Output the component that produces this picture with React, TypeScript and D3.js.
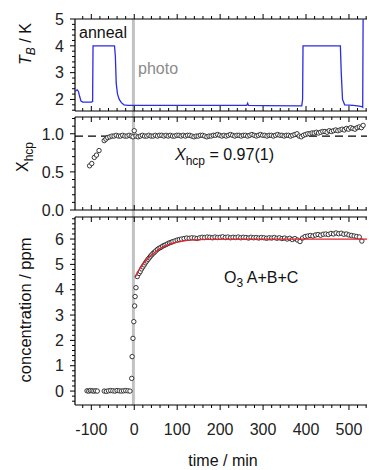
import * as d3 from 'd3'

// blue T_B trace: [time, K]
const tbTrace: [number, number][] = [
  [-138, 2.3], [-133, 2.36], [-130, 2.3], [-127, 2.1], [-124, 1.94], [-120, 1.9], [-100, 1.9], [-97, 1.92],
  [-96, 4.0], [-46, 4.0], [-44, 3.6], [-42, 2.6], [-39, 2.2], [-35, 2.0], [-30, 1.88], [-24, 1.8], [-15, 1.78],
  [262, 1.78], [264, 1.86], [266, 1.78], [300, 1.77], [390, 1.76], [392, 2.0], [393, 4.0], [480, 4.0],
  [482, 3.0], [485, 2.0], [490, 1.8], [510, 1.78], [520, 1.76], [530, 1.73], [532, 1.71], [533, 5.2]
]

// X_hcp points: [time, fraction]
const xhcpPoints: [number, number][] = [
  [-104, 0.58], [-99, 0.61], [-93, 0.69], [-88, 0.72], [-82, 0.78],
  [-70, 0.91], [-66, 0.93], [-62, 0.95], [-57, 0.96], [-52, 0.97], [-47, 0.97], [-42, 0.98], [-37, 0.97],
  [-32, 0.97], [-27, 0.98], [-22, 0.97], [-17, 0.97], [-12, 0.98], [-7, 0.97], [-3, 0.96], [0, 1.04],
  [4, 0.97], [9, 0.96], [14, 0.97], [19, 0.98], [24, 0.97], [29, 0.97], [34, 0.98], [39, 0.97], [44, 0.97],
  [49, 0.98], [54, 0.97], [59, 0.98], [64, 0.98], [69, 0.97], [74, 0.98], [79, 0.97], [84, 0.98], [89, 0.97],
  [94, 0.97], [99, 0.98], [104, 0.98], [109, 0.97], [114, 0.98], [119, 0.97], [124, 0.98], [129, 0.98],
  [134, 0.97], [139, 0.96], [144, 0.97], [149, 0.97], [154, 0.98], [159, 0.98], [164, 0.97], [169, 0.96],
  [174, 0.97], [179, 0.97], [184, 0.98], [189, 0.98], [194, 0.99], [199, 0.98], [204, 0.97], [209, 0.98],
  [214, 0.97], [219, 0.98], [224, 0.99], [229, 0.98], [234, 0.97], [239, 0.98], [244, 0.98], [249, 0.97],
  [254, 0.98], [259, 0.98], [264, 0.97], [269, 0.98], [274, 0.99], [279, 0.98], [284, 0.97], [289, 0.98],
  [294, 0.99], [299, 0.98], [304, 0.98], [309, 0.97], [314, 0.98], [319, 0.98], [324, 0.97], [329, 0.98],
  [334, 0.99], [339, 0.98], [344, 0.98], [349, 0.97], [354, 0.98], [359, 0.98], [364, 0.97], [369, 0.98],
  [374, 0.99], [379, 1.0], [384, 0.97], [389, 0.96], [394, 0.98], [399, 0.99], [404, 1.0], [409, 1.0],
  [414, 1.01], [419, 1.01], [424, 1.02], [429, 1.01], [434, 1.02], [439, 1.03], [444, 1.03], [449, 1.02],
  [454, 1.04], [459, 1.03], [464, 1.04], [469, 1.05], [474, 1.04], [479, 1.05], [484, 1.06], [489, 1.05],
  [494, 1.07], [499, 1.06], [504, 1.08], [509, 1.07], [514, 1.06], [519, 1.08], [524, 1.09], [529, 1.08],
  [533, 1.11]
]

// O3 concentration points: [time, ppm]
const concPoints: [number, number][] = [
  [-110, 0.01], [-106, 0.0], [-102, 0.02], [-98, 0.01], [-94, 0.0], [-90, 0.01], [-86, 0.0],
  [-70, 0.0], [-65, -0.01], [-60, 0.01], [-55, 0.02], [-50, 0.01], [-45, 0.0], [-40, 0.02], [-35, 0.01],
  [-30, 0.0], [-25, 0.01], [-20, 0.02], [-15, 0.01], [-10, 0.0],
  [-6, 0.5], [-5, 1.36], [-3, 2.08], [-1, 2.74], [1, 3.36], [2, 3.73], [4, 4.08], [7, 4.52],
  [11, 4.64], [14, 4.72], [17, 4.82], [20, 4.9], [23, 4.98], [26, 5.06], [29, 5.13], [32, 5.2], [35, 5.26],
  [38, 5.33], [41, 5.38], [44, 5.44], [47, 5.48], [50, 5.53], [54, 5.59], [58, 5.64], [62, 5.67], [66, 5.72],
  [70, 5.75], [74, 5.78], [78, 5.82], [82, 5.85], [86, 5.87], [90, 5.9], [95, 5.93], [100, 5.96], [105, 5.98],
  [110, 6.0], [116, 6.02], [122, 6.04], [128, 6.03], [134, 6.05], [140, 6.04], [146, 6.02], [152, 6.05],
  [158, 6.07], [164, 6.06], [170, 6.08], [176, 6.07], [182, 6.05], [188, 6.08], [194, 6.06], [200, 6.07],
  [206, 6.09], [212, 6.06], [218, 6.08], [224, 6.05], [230, 6.07], [236, 6.06], [242, 6.08], [248, 6.05],
  [254, 6.07], [260, 6.06], [266, 6.04], [272, 6.07], [278, 6.05], [284, 6.06], [290, 6.04], [296, 6.06],
  [302, 6.05], [308, 6.03], [314, 6.05], [320, 6.04], [326, 6.06], [332, 6.03], [338, 6.05], [344, 6.02],
  [350, 6.04], [356, 6.0], [362, 6.03], [368, 5.98], [374, 6.02], [380, 5.96], [386, 5.9], [392, 6.04],
  [398, 6.1], [404, 6.12], [410, 6.14], [416, 6.12], [422, 6.16], [428, 6.18], [434, 6.15], [440, 6.19],
  [446, 6.2], [452, 6.18], [458, 6.22], [464, 6.2], [470, 6.24], [476, 6.21], [482, 6.23], [488, 6.19],
  [494, 6.2], [500, 6.16], [506, 6.14], [512, 6.12], [518, 6.1], [524, 6.08], [530, 5.92]
]

// red fit curve: [time, ppm]
const fitCurve: [number, number][] = [
  [2, 4.48], [10, 4.75], [20, 5.0], [30, 5.2], [40, 5.37], [50, 5.5], [60, 5.62], [70, 5.71], [80, 5.78],
  [90, 5.84], [100, 5.88], [120, 5.94], [140, 5.97], [170, 5.99], [220, 6.0], [542, 6.0]
]

const timeTicks = [-100, 0, 100, 200, 300, 400, 500]
const tbTicks = [2, 3, 4, 5]
const xhcpTicks = [0, 0.5, 1.0]
const concTicks = [0, 1, 2, 3, 4, 5, 6]
const xhcpMean = 0.97
const photoStart = -2

const W = 369
const H = 470
const L = 75
const R = 367
const FONT = '"Liberation Sans", Arial, sans-serif'

export default function App() {
  const x = d3.scaleLinear().domain([-138, 542]).range([L, R])
  const panels = [
    { id: 'p1', y: d3.scaleLinear().domain([1.57, 5]).range([111, 19]), ticks: tbTicks, minor: 0.2, fmt: (d: number) => String(d) },
    { id: 'p2', y: d3.scaleLinear().domain([0, 1.22]).range([210, 117]), ticks: xhcpTicks, minor: 0.1, fmt: d3.format('.1f') },
    { id: 'p3', y: d3.scaleLinear().domain([-0.55, 6.87]).range([405, 217]), ticks: concTicks, minor: 0.2, fmt: (d: number) => String(d) }
  ]
  const [p1, p2, p3] = panels
  const minorTime = d3.range(-120, 541, 20)

  const xTickMarks = (yPos: number, dir: number) =>
    minorTime.map(t => {
      const major = t % 100 === 0
      return (
        <line key={t} x1={x(t)} x2={x(t)} y1={yPos} y2={yPos + dir * (major ? 5 : 3)} stroke="#000" strokeWidth={1} />
      )
    })

  const yTickMarks = (p: typeof p1) => {
    const [d0, d1] = p.y.domain()
    const step = p.minor
    const all = d3.range(Math.ceil(d0 / step) * step, d1 + 1e-9, step)
    return all.map((v, i) => {
      const major = p.ticks.some(t => Math.abs(t - v) < 1e-6)
      return <line key={i} x1={L} x2={L - (major ? 5 : 3)} y1={p.y(v)} y2={p.y(v)} stroke="#000" strokeWidth={1} />
    })
  }

  const tbLine = d3.line<[number, number]>().x(d => x(d[0])).y(d => p1.y(d[1]))
  const fitLine = d3.line<[number, number]>().x(d => x(d[0])).y(d => p3.y(d[1])).curve(d3.curveMonotoneX)

  return (
    <svg width={W} height={H} style={{ position: 'absolute', left: 0, top: 0, background: '#fff' }} fontFamily={FONT}>
      <defs>
        {panels.map(p => (
          <clipPath key={p.id} id={'clip-' + p.id}>
            <rect x={L} y={p.y.range()[1]} width={R - L} height={p.y.range()[0] - p.y.range()[1]} />
          </clipPath>
        ))}
      </defs>

      {/* photolysis start marker */}
      <line x1={x(photoStart)} x2={x(photoStart)} y1={p1.y.range()[1]} y2={p3.y.range()[0]} stroke="#c2c2c2" strokeWidth={3} />

      {/* axes */}
      {panels.map(p => {
        const [yb, yt] = p.y.range()
        return (
          <g key={p.id}>
            <line x1={L} x2={L} y1={yt} y2={yb} stroke="#000" strokeWidth={1.2} />
            <line x1={L} x2={R} y1={yt} y2={yt} stroke="#000" strokeWidth={1.2} />
            <line x1={L} x2={R} y1={yb} y2={yb} stroke="#000" strokeWidth={1.2} />
            {yTickMarks(p)}
            {p.ticks.map(t => (
              <text key={t} x={64} y={p.y(t)} dy="0.36em" textAnchor="end" fontSize={16} fill="#222">{p.fmt(t)}</text>
            ))}
          </g>
        )
      })}
      {xTickMarks(p1.y.range()[1], -1)}
      {xTickMarks(p1.y.range()[0], -1)}
      {xTickMarks(p2.y.range()[1], 1)}
      {xTickMarks(p2.y.range()[0], -1)}
      {xTickMarks(p3.y.range()[1], 1)}
      {xTickMarks(p3.y.range()[0], 1)}
      {timeTicks.map(t => (
        <text key={t} x={x(t)} y={435} textAnchor="middle" fontSize={16} fill="#222">{t}</text>
      ))}

      {/* panel 1: T_B */}
      <g clipPath="url(#clip-p1)">
        <path d={tbLine(tbTrace) || ''} fill="none" stroke="#2c2ce0" strokeWidth={1.3} />
      </g>

      {/* panel 2: X_hcp */}
      <line x1={L} x2={R} y1={p2.y(xhcpMean)} y2={p2.y(xhcpMean)} stroke="#000" strokeWidth={1.2} strokeDasharray="8,5" />
      <g clipPath="url(#clip-p2)">
        {xhcpPoints.map((d, i) => (
          <circle key={i} cx={x(d[0])} cy={p2.y(d[1])} r={2.2} fill="#fff" stroke="#222" strokeWidth={0.9} />
        ))}
      </g>

      {/* panel 3: concentration */}
      <g clipPath="url(#clip-p3)">
        {concPoints.map((d, i) => (
          <circle key={i} cx={x(d[0])} cy={p3.y(d[1])} r={2.2} fill="#fff" stroke="#222" strokeWidth={0.9} />
        ))}
        <path d={fitLine(fitCurve) || ''} fill="none" stroke="#e8232b" strokeWidth={1.3} />
      </g>

      {/* annotations */}
      <text x={79} y={38} fontSize={16} fill="#111">anneal</text>
      <text x={138} y={74} fontSize={16} fill="#8a8a8a">photo</text>
      <text x={175} y={160} fontSize={16} fill="#111">
        <tspan fontStyle="italic">X</tspan>
        <tspan fontSize={12} dy={5}>hcp</tspan>
        <tspan dy={-5}> = 0.97(1)</tspan>
      </text>
      <text x={224} y={283} fontSize={16} fill="#111">
        O<tspan fontSize={12} dy={4}>3</tspan><tspan dy={-4}> A+B+C</tspan>
      </text>

      {/* axis titles */}
      <text transform="translate(31,44) rotate(-90)" textAnchor="middle" fontSize={16} fill="#111">
        <tspan fontStyle="italic">T</tspan>
        <tspan fontStyle="italic" fontSize={12} dy={4}>B</tspan>
        <tspan dy={-4}> / K</tspan>
      </text>
      <text transform="translate(28,157) rotate(-90)" textAnchor="middle" fontSize={16} fill="#111">
        <tspan>X</tspan>
        <tspan fontSize={12} dy={5}>hcp</tspan>
      </text>
      <text transform="translate(31,310) rotate(-90)" textAnchor="middle" fontSize={16.5} fill="#111">concentration / ppm</text>
      <text x={223} y={466} textAnchor="middle" fontSize={16} fill="#111">time / min</text>
    </svg>
  )
}
